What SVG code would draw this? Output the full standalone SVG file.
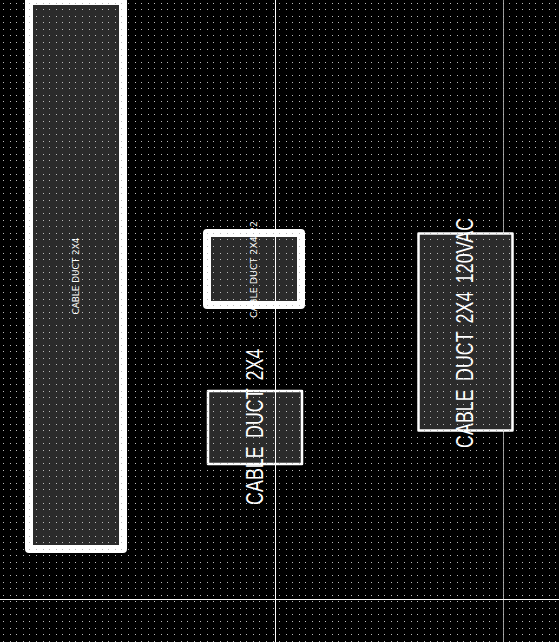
<svg xmlns="http://www.w3.org/2000/svg" width="559" height="642" viewBox="0 0 559 642">
<style>
.box{fill:#2b2b2b;stroke:#fff;stroke-linejoin:round}
.t{fill:#fff;font-family:"DejaVu Sans",sans-serif}
.b{fill:#fff;font-family:"Liberation Sans",Arial,sans-serif;font-size:23px;word-spacing:4px;letter-spacing:.2px}
.guide{fill:none;stroke:#fff;stroke-width:1;shape-rendering:crispEdges}
.dots{fill:none;stroke:#b8b8b8;stroke-width:1;stroke-dasharray:1 6 1 5 1 6 1 5 1 6 1 6 1 5;stroke-dashoffset:-3;shape-rendering:crispEdges}
</style>
<rect width="559" height="642" fill="#000"/>
<path class="guide" d="M503.5 0V642" style="stroke:#9a9a9a"/>
<g id="node-duct-long">
<rect class="box" x="29" y="1" width="94" height="548" stroke-width="8"/>
<text class="t" font-size="8.9" transform="translate(79 314.5) rotate(-90)">CABLE DUCT 2X4</text>
</g>
<g id="node-duct-22">
<rect class="box" x="207" y="233" width="94" height="72" stroke-width="8"/>
<text class="t" font-size="9.46" transform="translate(257 318) rotate(-90)">CABLE DUCT 2X4 22</text>
</g>
<g id="node-duct-2x4">
<rect class="box" x="208" y="391" width="94" height="73" stroke-width="2.5"/>
<text class="b" transform="translate(262.5 505) rotate(-90) scale(.77 1)">CABLE DUCT 2X4</text>
</g>
<g id="node-duct-120vac">
<rect class="box" x="418.5" y="233.5" width="94" height="197" stroke-width="2.5"/>
<text class="b" transform="translate(472.5 448) rotate(-90) scale(.77 1)">CABLE DUCT 2X4 120VAC</text>
</g>
<path class="dots" d="M0 3.5H559M0 9.5H559M0 16.5H559M0 22.5H559M0 29.5H559M0 35.5H559M0 42.5H559M0 49.5H559M0 55.5H559M0 62.5H559M0 68.5H559M0 75.5H559M0 82.5H559M0 88.5H559M0 95.5H559M0 101.5H559M0 108.5H559M0 114.5H559M0 121.5H559M0 128.5H559M0 134.5H559M0 141.5H559M0 147.5H559M0 154.5H559M0 160.5H559M0 167.5H559M0 174.5H559M0 180.5H559M0 187.5H559M0 193.5H559M0 200.5H559M0 207.5H559M0 213.5H559M0 220.5H559M0 226.5H559M0 233.5H559M0 239.5H559M0 246.5H559M0 253.5H559M0 259.5H559M0 266.5H559M0 272.5H559M0 279.5H559M0 285.5H559M0 292.5H559M0 299.5H559M0 305.5H559M0 312.5H559M0 318.5H559M0 325.5H559M0 332.5H559M0 338.5H559M0 345.5H559M0 351.5H559M0 358.5H559M0 364.5H559M0 371.5H559M0 378.5H559M0 384.5H559M0 391.5H559M0 397.5H559M0 404.5H559M0 411.5H559M0 417.5H559M0 424.5H559M0 430.5H559M0 437.5H559M0 443.5H559M0 450.5H559M0 457.5H559M0 463.5H559M0 470.5H559M0 476.5H559M0 483.5H559M0 489.5H559M0 496.5H559M0 503.5H559M0 509.5H559M0 516.5H559M0 522.5H559M0 529.5H559M0 536.5H559M0 542.5H559M0 549.5H559M0 555.5H559M0 562.5H559M0 568.5H559M0 575.5H559M0 582.5H559M0 588.5H559M0 595.5H559M0 601.5H559M0 608.5H559M0 614.5H559M0 621.5H559M0 628.5H559M0 634.5H559M0 641.5H559"/>
<g id="connectors">
<path class="guide" d="M275.5 0V642M0 599.5H559"/>
</g>
</svg>
